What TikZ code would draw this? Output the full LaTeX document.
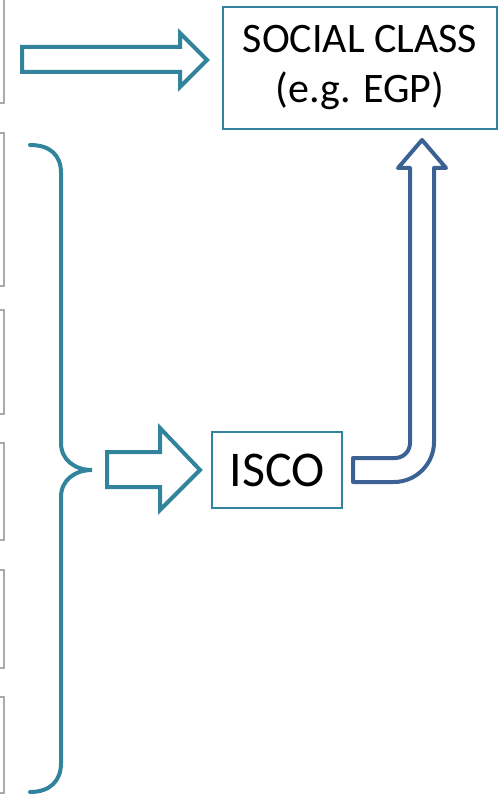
\documentclass[tikz,border=0pt]{standalone}
\usepackage{fontspec}
\setmainfont{Carlito}
\definecolor{tealline}{HTML}{31849B}
\definecolor{blueline}{HTML}{3C6294}
\definecolor{greyline}{HTML}{ABABAB}
\tikzset{
	srcbox/.style={draw=greyline, line width=1.2pt},
	classbox/.style={draw=tealline, line width=1pt, align=center, inner sep=0pt},
	blockarrow/.style={draw=tealline, line width=2pt, line join=miter, fill=white},
}

\begin{document}
\begin{tikzpicture}[x=0.5pt,y=-0.5pt]
	\useasboundingbox (0,0) rectangle (499,795);
	
	% boxes on the left, cut off by the page edge
	\draw[srcbox] (-20,-10) rectangle (4,103);
	\draw[srcbox] (-20,133) rectangle (4,286);
	\draw[srcbox] (-20,310) rectangle (4,414);
	\draw[srcbox] (-20,443) rectangle (4,540);
	\draw[srcbox] (-20,570) rectangle (4,668);
	\draw[srcbox] (-20,697) rectangle (4,793);
	
	\node[classbox, minimum width=137pt, minimum height=61pt, text depth=4pt, font=\fontsize{21}{25}\selectfont] (social) at (360,68) {SOCIAL CLASS\\(e.g. EGP)};
	\node[classbox, minimum width=65pt, minimum height=38pt, font=\fontsize{25}{30}\selectfont] (isco) at (277,470) {ISCO};
	\coordinate (bracetip) at (92,470);
	
	% brace
	\draw[tealline, line width=2pt, line cap=round] (30,145) .. controls (50,145) and (61,155) .. (61,173) -- (61,443)
		.. controls (61,460) and (75,470) .. (bracetip) .. controls (75,470) and (61,480) .. (61,497) -- (61,763)
		.. controls (61,781) and (50,792) .. (30,792);
	
	% arrows
	\draw[blockarrow] (22,47) -- (180,47) -- (180,33) -- (207,60) -- (180,87) -- (180,72) -- (22,72) -- cycle;
	\draw[blockarrow] (107,452) -- (160,452) -- (160,428) -- (200,470) -- (160,510) -- (160,487) -- (107,487) -- cycle;
	\draw[blockarrow, draw=blueline, line join=round] (353,458) -- (395,458) .. controls (403.3,458) and (410,451.3) .. (410,443)
		-- (410,168) -- (398,168) -- (422,140) -- (446,168) -- (434,168) -- (434,442)
		.. controls (434,464) and (416,482) .. (394,482) -- (353,482) -- cycle;
\end{tikzpicture}
\end{document}
